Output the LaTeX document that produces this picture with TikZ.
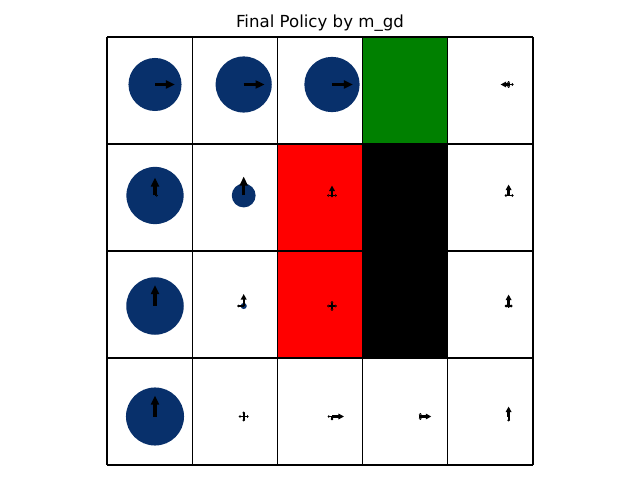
\documentclass[tikz,border=0pt]{standalone}
\usepackage{fontspec}
\setmainfont{DejaVu Sans}
\usetikzlibrary{arrows.meta}
\definecolor{Val}{HTML}{08306B}
\definecolor{Goal}{HTML}{008000}
\definecolor{Trap}{HTML}{FF0000}

\begin{document}
\begin{tikzpicture}[x=0.72bp,y=-0.72bp,
  act/.style={line width=2.2bp,-{Triangle[length=6.5bp,width=5.6bp]}},
  actm/.style={line width=1.6bp,-{Triangle[length=4bp,width=4bp]}},
  acts/.style={line width=1.4bp,-{Triangle[length=1.2bp,width=2.2bp]}}]
  \useasboundingbox (0,0) rectangle (640,480);
  \node[font=\fontsize{12}{14}\selectfont] (title) at (320,23) {Final Policy by m\_gd};
  \fill[Goal] (363,37) rectangle (448,144);
  \fill[Trap] (277,144) rectangle (363,358);
  \fill[black] (363,144) rectangle (448,358);
  \foreach \i in {0,...,5} \draw[line width=0.8bp] (107+85.2*\i,37) -- (107+85.2*\i,465);
  \foreach \j in {0,...,4} \draw[line width=0.8bp] (107,37+107*\j) -- (533,37+107*\j);
  \foreach \r/\yy in {0/84.5,1/195.5,2/306,3/416.5}
    \foreach \c/\xx in {0/155,1/243.7,2/332,3/420.3,4/508.6}
      \coordinate (o\r\c) at (\xx,\yy);
  \fill[Val] (o00) circle[radius=19.1bp];
  \fill[Val] (o01) circle[radius=20.2bp];
  \fill[Val] (o02) circle[radius=19.9bp];
  \fill[Val] (o10) circle[radius=20.6bp];
  \fill[Val] (o11) circle[radius=8.6bp];
  \fill[Val] (o20) circle[radius=20.7bp];
  \fill[Val] (o21) circle[radius=2.2bp];
  \fill[Val] (o30) circle[radius=20.9bp];
  \draw[act] (o00) -- ++(20,0);
  \draw[act] (o01) -- ++(21,0);
  \draw[act] (o02) -- ++(21,0);
  \draw[actm] (o04) -- ++(-8,0);
  \draw[acts] (o04) -- ++(5,0);
  \draw[acts] (o04) -- ++(0,-3.5);
  \draw[acts] (o04) -- ++(0,3.5);
  \draw[act] (o10) -- ++(0,-18);
  \draw[acts] (o10) -- ++(3,0);
  \draw[act] (o11) -- ++(0,-19);
  \draw[actm] (o12) -- ++(0,-10);
  \draw[acts] (o12) -- ++(-5,0);
  \draw[acts] (o12) -- ++(5,0);
  \draw[acts] (o12) -- ++(0,2);
  \draw[actm] (o14) -- ++(0,-11);
  \draw[acts] (o14) -- ++(-4,0);
  \draw[acts] (o14) -- ++(5,0);
  \draw[act] (o20) -- ++(0,-21);
  \draw[actm] (o21) -- ++(0,-12);
  \draw[acts] (o21) -- ++(-6.5,0);
  \draw[acts] (o22) -- ++(-5,0);
  \draw[acts] (o22) -- ++(5,0);
  \draw[acts] (o22) -- ++(0,-5);
  \draw[acts] (o22) -- ++(0,5);
  \draw[actm] (o24) -- ++(0,-11.5);
  \draw[acts] (o24) -- ++(-4,0);
  \draw[acts] (o24) -- ++(4,0);
  \draw[acts] (o24) -- ++(0,2);
  \draw[act] (o30) -- ++(0,-21);
  \draw[acts] (o31) -- ++(-5,0);
  \draw[acts] (o31) -- ++(5,0);
  \draw[acts] (o31) -- ++(0,-5);
  \draw[acts] (o31) -- ++(0,5);
  \draw[actm] (o32) -- ++(12,0);
  \draw[acts] (o32) -- ++(-4.5,0);
  \draw[acts] (o32) -- ++(0,4);
  \draw[actm] (o33) -- ++(11,0);
  \draw[acts] (o33) -- ++(0,-3.5);
  \draw[acts] (o33) -- ++(0,3.5);
  \draw[actm] (o34) -- ++(0,-10);
  \draw[acts] (o34) -- ++(0,5);
\end{tikzpicture}
\end{document}
